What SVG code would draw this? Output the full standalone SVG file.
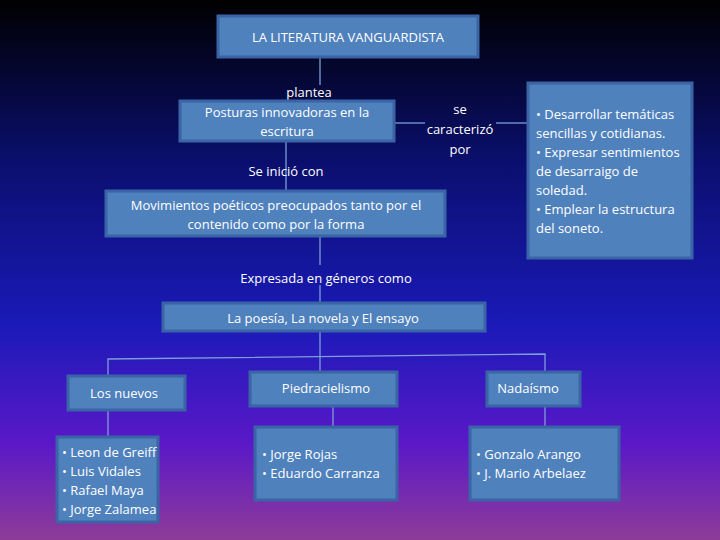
<svg xmlns="http://www.w3.org/2000/svg" width="720" height="540" viewBox="0 0 720 540">
<defs>
<linearGradient id="bg" x1="0" y1="0" x2="0" y2="1">
<stop offset="0" stop-color="#000000"/>
<stop offset="0.3" stop-color="#0a0f6e"/>
<stop offset="0.6" stop-color="#1a1ab8"/>
<stop offset="0.82" stop-color="#5a18c8"/>
<stop offset="1" stop-color="#8e3c98"/>
</linearGradient>
</defs>
<style>
.b{fill:#4f81bd;stroke:#3b64a6;stroke-width:3}
.t{fill:#fff;font-family:"Open Sans","Liberation Sans",sans-serif;font-size:13px;text-anchor:middle}
.l{text-anchor:start}
.c line,.c polyline{stroke:#7b9fd8;stroke-width:1.3;fill:none}
</style>
<rect width="720" height="540" fill="url(#bg)"/>
<g class="c">
<line x1="320" y1="57" x2="320" y2="85"/>
<line x1="394" y1="123" x2="425" y2="123"/>
<line x1="496" y1="123" x2="528" y2="123"/>
<line x1="286" y1="141" x2="286" y2="191"/>
<line x1="320" y1="236" x2="320" y2="265"/>
<line x1="320" y1="285" x2="320" y2="303"/>
<line x1="320" y1="331" x2="320" y2="372"/>
<polyline points="108,376 108,359 545,354 545,372"/>
<line x1="108" y1="410" x2="108" y2="437"/>
<line x1="333" y1="406" x2="333" y2="427"/>
<line x1="545" y1="406" x2="545" y2="427"/>
</g>
<g id="title"><rect class="b" x="218" y="16" width="260" height="41"/><text class="t" x="348" y="42" font-size="14">LA LITERATURA VANGUARDISTA</text></g>
<text class="t" x="309" y="97">plantea</text>
<g id="posturas"><rect class="b" x="180" y="101" width="214" height="40"/><text class="t" x="287" y="117">Posturas innovadoras  en la</text><text class="t" x="287" y="136">escritura</text></g>
<text class="t" x="460" y="114">se</text><text class="t" x="460" y="134">caracterizó</text><text class="t" x="460" y="154">por</text>
<g id="rasgos"><rect class="b" x="528" y="83" width="164" height="175"/>
<text class="t l" x="536" y="119">• Desarrollar temáticas</text><text class="t l" x="536" y="138">sencillas y cotidianas.</text><text class="t l" x="536" y="157">• Expresar sentimientos</text><text class="t l" x="536" y="176">de desarraigo de</text><text class="t l" x="536" y="195">soledad.</text><text class="t l" x="536" y="214">• Emplear la estructura</text><text class="t l" x="536" y="233">del soneto.</text></g>
<text class="t" x="286" y="176">Se inició con</text>
<g id="movimientos"><rect class="b" x="106" y="191" width="339" height="45"/><text class="t" x="276" y="210">Movimientos poéticos preocupados tanto por el</text><text class="t" x="276" y="229">contenido como por la forma</text></g>
<text class="t" x="326" y="283">Expresada en géneros como</text>
<g id="generos"><rect class="b" x="163" y="303" width="322" height="28"/><text class="t" x="323" y="323">La poesía, La novela y El ensayo</text></g>
<g id="nuevos"><rect class="b" x="68" y="376" width="117" height="34"/><text class="t" x="124" y="398">Los nuevos</text></g>
<g id="piedra"><rect class="b" x="250" y="372" width="147" height="34"/><text class="t" x="326" y="393">Piedracielismo</text></g>
<g id="nada"><rect class="b" x="487" y="372" width="93" height="34"/><text class="t" x="528" y="393">Nadaísmo</text></g>
<g id="nuevosL"><rect class="b" x="57" y="437" width="101" height="85"/><text class="t l" x="62" y="457">• Leon de Greiff</text><text class="t l" x="62" y="476">• Luis Vidales</text><text class="t l" x="62" y="495">• Rafael Maya</text><text class="t l" x="62" y="514">• Jorge Zalamea</text></g>
<g id="piedraL"><rect class="b" x="255" y="427" width="142" height="73"/><text class="t l" x="262" y="459">• Jorge Rojas</text><text class="t l" x="262" y="478">• Eduardo Carranza</text></g>
<g id="nadaL"><rect class="b" x="470" y="427" width="149" height="73"/><text class="t l" x="476" y="459">• Gonzalo Arango</text><text class="t l" x="476" y="478">• J. Mario Arbelaez</text></g>
</svg>
